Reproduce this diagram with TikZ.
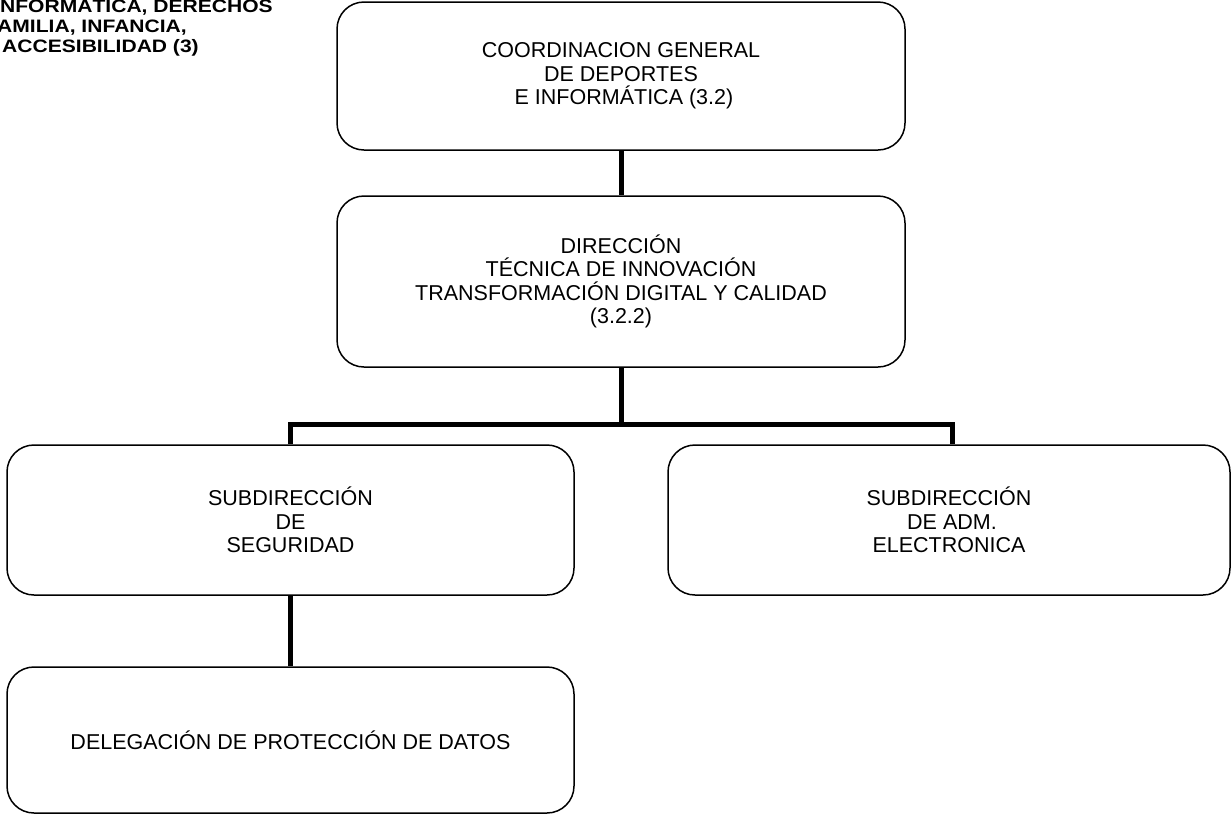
\documentclass[tikz,border=0pt]{standalone}
\usepackage{fontspec}
\setmainfont{Liberation Sans}
\begin{document}
\begin{tikzpicture}[x=1pt,y=-1pt,
  box/.style={draw, line width=1.5pt, rounded corners=27pt, align=center, inner sep=0pt,
    font=\fontsize{21.5}{23.5}\selectfont},
  conn/.style={line width=5pt},
  head/.style={anchor=base east, inner sep=0pt, xscale=1.17, transform shape,
    font=\fontsize{18}{20}\selectfont\bfseries}]
\useasboundingbox (0,0) rectangle (1232,815);
\clip (0,0) rectangle (1232,815);
\fill[white] (0,0) rectangle (1232,815);
% clipped heading
\node[head] (h1) at (273,12.5) {INFORMÁTICA, DERECHOS};
\node[head] (h2) at (187,32.5) {FAMILIA, INFANCIA,};
\node[head] (h3) at (199,52.5) {ACCESIBILIDAD (3)};
% boxes
\node[box, minimum width=568pt, minimum height=148pt] (b1) at (621,76)
  {COORDINACION GENERAL\\DE DEPORTES\\\hspace*{6pt}E INFORMÁTICA (3.2)};
\node[box, minimum width=568pt, minimum height=171pt] (b2) at (621,281.5)
  {DIRECCIÓN\\TÉCNICA DE INNOVACIÓN\\TRANSFORMACIÓN DIGITAL Y CALIDAD\\(3.2.2)};
\node[box, minimum width=567pt, minimum height=150pt] (b3) at (290.5,520)
  {SUBDIRECCIÓN\\DE\\SEGURIDAD};
\node[box, minimum width=562pt, minimum height=150pt] (b4) at (949,520)
  {SUBDIRECCIÓN\\\hspace*{6pt}DE ADM.\\ELECTRONICA};
\node[box, minimum width=567pt, minimum height=146pt] (b5) at (290.5,740)
  {DELEGACIÓN DE PROTECCIÓN DE DATOS};
% connectors
\coordinate (j) at (621,424);
\coordinate (jl) at (290.5,424);
\coordinate (jr) at (952,424);
\draw[conn] (b1.south) -- (b2.north);
\draw[conn] (b2.south) -- (j);
\draw[conn, line cap=rect] (jl) -- (jr);
\draw[conn] (jl) -- (jl |- b3.north);
\draw[conn] (jr) -- (jr |- b4.north);
\draw[conn] (b3.south) -- (b5.north);
\end{tikzpicture}
\end{document}
